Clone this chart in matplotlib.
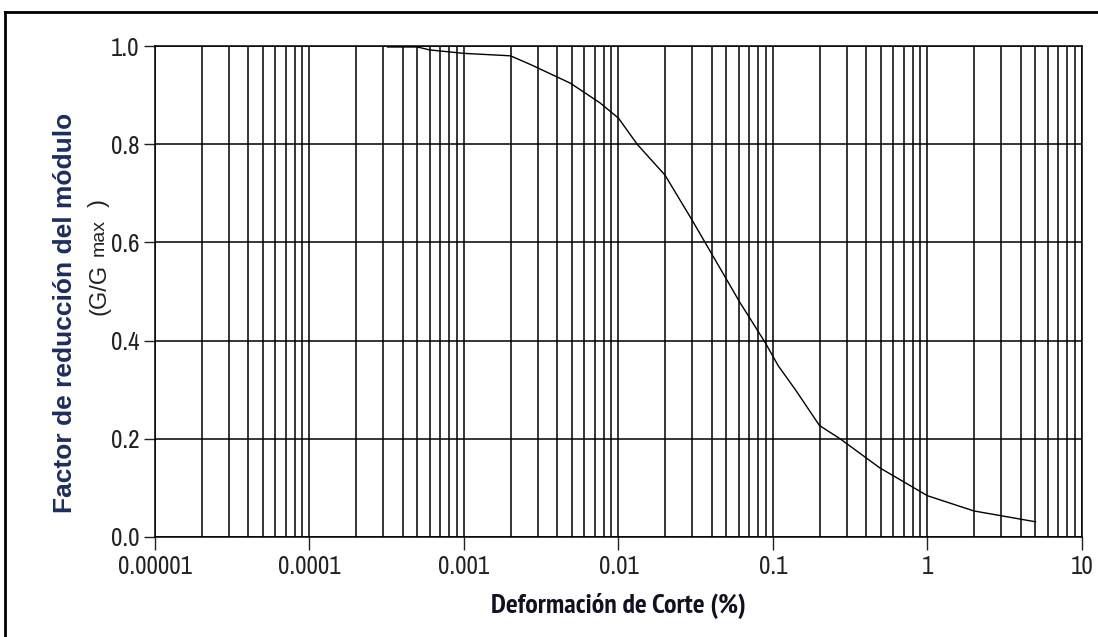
import matplotlib
matplotlib.use('Agg')
import matplotlib.pyplot as plt
from matplotlib import font_manager as fm
from matplotlib.lines import Line2D
from matplotlib.ticker import LogLocator, NullFormatter
import numpy as np

plt.rcParams.update({
    'font.family': ['Liberation Sans', 'DejaVu Sans'],
    'figure.facecolor': 'white', 'axes.facecolor': 'white',
})

# curva G/Gmax
STRAIN = [0.00032, 0.0005, 0.0006, 0.001, 0.002, 0.00275, 0.0049, 0.0076,
          0.01, 0.0132, 0.02, 0.03, 0.061, 0.089, 0.108, 0.141, 0.2, 0.272,
          0.49, 1.0, 2.0, 5.0]
G_RATIO = [0.998, 0.998, 0.992, 0.985, 0.98, 0.961, 0.924, 0.884,
           0.853, 0.80, 0.737, 0.645, 0.478, 0.396, 0.349, 0.298, 0.227, 0.2,
           0.141, 0.084, 0.053, 0.031]

XTICKS = [1e-5, 1e-4, 1e-3, 1e-2, 1e-1, 1, 10]
XTICK_LABELS = ['0.00001', '0.0001', '0.001', '0.01', '0.1', '1', '10']
YTICKS = [0.0, 0.2, 0.4, 0.6, 0.8, 1.0]
YTICK_LABELS = ['0.0', '0.2', '0.4', '0.6', '0.8', '1.0']

NAVY = '#1c2d5e'


def narrow_font(bold, size):
    # busca una fuente estrecha instalada (tipo Arial Narrow)
    best, best_rank = None, 99
    for f in fm.fontManager.ttflist:
        if f.style != 'normal':
            continue
        w = f.weight if isinstance(f.weight, int) else fm.weight_dict.get(f.weight, 400)
        if (w >= 600) != bold:
            continue
        if 'Narrow' in f.name:
            rank = 0
        elif f.stretch in ('condensed', 'semi-condensed', 'extra-condensed'):
            rank = 1 if 'DejaVu' not in f.name else 2
        else:
            continue
        if rank < best_rank:
            best, best_rank = f, rank
    if best is None:
        return fm.FontProperties(family='Liberation Sans',
                                 weight='bold' if bold else 'normal', size=size)
    return fm.FontProperties(fname=best.fname, size=size)


tick_fp = narrow_font(False, 18)
xlab_fp = narrow_font(True, 20)

fig = plt.figure(figsize=(10.98, 6.37), dpi=100)
ax = fig.add_axes([155/1098, 1 - 537/637, (1082 - 155)/1098, (537 - 46)/637])

ax.plot(STRAIN, G_RATIO, color='black', linewidth=1.0, zorder=3)

ax.set_xscale('log')
ax.set_xlim(1e-5, 10)
ax.set_ylim(0, 1.0)
ax.xaxis.set_minor_locator(LogLocator(base=10, subs=np.arange(2, 10)))
ax.xaxis.set_minor_formatter(NullFormatter())
ax.set_xticks(XTICKS)
ax.set_xticklabels(XTICK_LABELS)
ax.set_yticks(YTICKS)
ax.set_yticklabels(YTICK_LABELS)
for lab in ax.get_xticklabels() + ax.get_yticklabels():
    lab.set_fontproperties(tick_fp)

ax.grid(which='both', axis='x', color='black', linewidth=1.1)
ax.grid(which='major', axis='y', color='black', linewidth=1.1)
for sp in ax.spines.values():
    sp.set_color('black')
    sp.set_linewidth(1.1)

ax.tick_params(axis='x', which='major', length=9, width=1, direction='out',
               pad=4, colors='#222222')
ax.tick_params(axis='x', which='minor', length=0)
ax.tick_params(axis='y', length=8, width=1, direction='out',
               pad=3, colors='#222222')

fig.text(618/1098, 1 - 606/637, 'Deformación de Corte (%)', ha='center', va='center',
         fontproperties=xlab_fp, color='#111122')
fig.text(65/1098, 1 - 313/637, 'Factor de reducción del módulo', ha='center', va='center',
         rotation=90, fontsize=19, fontweight='bold', color=NAVY)

# (G/Gmax ) con "max" mas pequeno
sub_kw = dict(rotation=90, rotation_mode='anchor', ha='center', color='#222222')
fig.text(105/1098, 1 - 289/637, '(G/G', fontsize=17, va='baseline', **sub_kw)
fig.text(99/1098, 1 - 237/637, 'max', fontsize=14, va='center', **sub_kw)
fig.text(105/1098, 1 - 203/637, ')', fontsize=17, va='baseline', **sub_kw)

# marco exterior (solo arriba e izquierda visibles)
fig.add_artist(Line2D([5/1098, 5/1098], [0, 1 - 12/637], transform=fig.transFigure,
                      color='black', linewidth=2))
fig.add_artist(Line2D([5/1098, 1], [1 - 12/637, 1 - 12/637], transform=fig.transFigure,
                      color='black', linewidth=2))

fig.savefig('out.png', dpi=100, facecolor='white')
